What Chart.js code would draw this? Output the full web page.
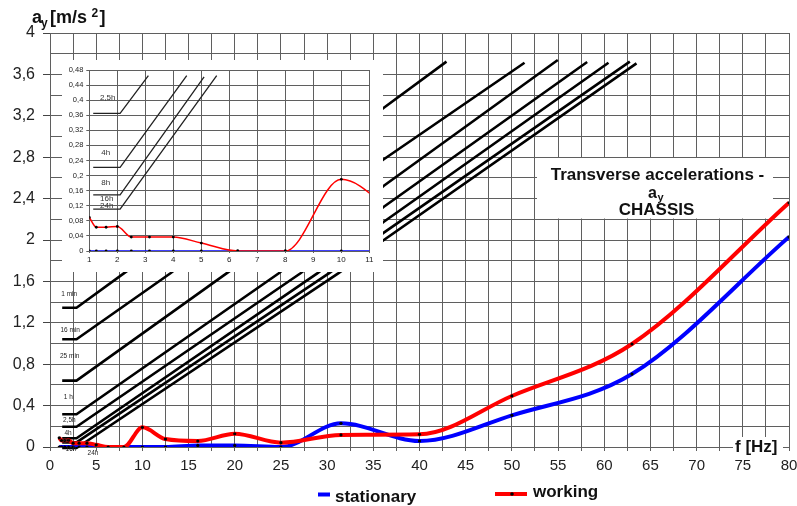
<!DOCTYPE html>
<html>
<head>
<meta charset="utf-8">
<script src="https://cdn.jsdelivr.net/npm/chart.js@4/dist/chart.umd.min.js"></script>
<style>
  html, body { margin: 0; padding: 0; background: #fff; }
  #wrap { position: relative; width: 797px; height: 506px; overflow: hidden; }
  #main { position: absolute; left: 0; top: 0; }
  #inset { position: absolute; left: 62px; top: 60px; }
</style>
</head>
<body>
<div id="wrap">
  <canvas id="main" width="797" height="506"></canvas>
  <canvas id="inset" width="321" height="212"></canvas>
</div>
<script>
// Third-octave band centre frequencies [Hz]
const freqs = [1, 1.25, 1.6, 2, 2.5, 3.15, 4, 5, 6.3, 8, 10, 12.5, 16, 20, 25, 31.5, 40, 50, 63, 80];
// Transverse acceleration a_y [m/s2] on the chassis
const stationary = [0, 0, 0, 0, 0, 0, 0, 0, 0, 0, 0, 0, 0.015, 0.015, 0, 0.229, 0.058, 0.306, 0.705, 2.03];
const working    = [0.089, 0.063, 0.063, 0.065, 0.037, 0.037, 0.037, 0.021, 0, 0, 0.19, 0.077, 0.058, 0.128, 0.042, 0.117, 0.122, 0.493, 0.995, 2.36];

// Exposure-time comfort boundaries, main diagram: [f, a] vertices
const limit1min  = [[1.32, 1.346], [2.87, 1.346], [7.99, 1.678], [11, 1.873]];
const limit16min = [[1.32, 1.041], [2.87, 1.041], [13.04, 1.678], [36.14, 3.278], [42.92, 3.723]];
const limit25min = [[1.32, 0.641], [2.87, 0.641], [19.11, 1.678], [36.14, 2.78], [51.37, 3.713]];
const limit1h    = [[1.32, 0.316], [2.87, 0.316], [24.77, 1.678], [36.14, 2.525], [54.97, 3.739]];
const limit2h5   = [[1.32, 0.196], [2.87, 0.196], [27.12, 1.678], [36.14, 2.322], [58.15, 3.72]];
const limit4h    = [[1.32, 0.084], [2.87, 0.084], [28.93, 1.678], [36.14, 2.177], [60.46, 3.713]];
const limit8h    = [[1.32, 0.045], [2.87, 0.045], [30.18, 1.678], [36.14, 2.071], [62.77, 3.723]];
const limit16h   = [[1.32, -0.01], [2.87, -0.01], [31.2, 1.678], [36.14, 2.0], [63.49, 3.707]];
const mainLimits = [limit1min, limit16min, limit25min, limit1h, limit2h5, limit4h, limit8h, limit16h];

// Boundaries in the low-frequency detail
const detail2h5 = [[1.14, 0.365], [2.1, 0.365], [3.11, 0.465]];
const detail4h  = [[1.14, 0.222], [2.1, 0.222], [4.48, 0.465]];
const detail8h  = [[1.14, 0.149], [2.1, 0.149], [5.1, 0.462]];
const detail16h = [[1.14, 0.111], [2.1, 0.111], [5.55, 0.465]];
const detailLimits = [detail2h5, detail4h, detail8h, detail16h];

// Tick settings
const xTickStep = 2.5, xLabelStep = 5;
const yTickStep = 0.2, yLabelStep = 0.4;
const detailXStep = 1, detailYStep = 0.04;

const FONT = "'Liberation Sans', Arial, sans-serif";
const GRID = '#5f5f5f';
const RED = '#ff0000', BLUE = '#0000ff';

const pts = arr => freqs.map((f, i) => ({ x: f, y: arr[i] }));
const pairs = arr => arr.map(p => ({ x: p[0], y: p[1] }));
const comma = (v, d) => String(Number(v.toFixed(d))).replace('.', ',');

function curveSet(label, arr, color, width, r, order) {
  return {
    label, data: pts(arr), borderColor: color, backgroundColor: color,
    borderWidth: width, cubicInterpolationMode: 'monotone',
    pointRadius: r, pointBackgroundColor: '#000', pointBorderWidth: 0,
    pointHoverRadius: r, order
  };
}
function limitSet(arr, width, color) {
  return {
    data: pairs(arr), borderColor: color, borderWidth: width, tension: 0,
    pointRadius: 0, pointHoverRadius: 0, order: 5, clip: false,
    borderCapStyle: 'butt', borderJoinStyle: 'miter'
  };
}

function drawText(ctx, txt, x, y, font, align, color) {
  ctx.font = font; ctx.textAlign = align || 'left';
  ctx.textBaseline = 'alphabetic'; ctx.fillStyle = color || '#111';
  ctx.fillText(txt, x, y);
}

// Annotations of the main diagram
const mainDecor = {
  id: 'mainDecor',
  beforeDatasetsDraw(chart) {
    const c = chart.ctx;
    c.save();
    c.fillStyle = '#fff';
    c.fillRect(537, 158, 236, 60.5);   // caption panel
    c.restore();
  },
  afterDatasetsDraw(chart) {
    const c = chart.ctx;
    c.save();
    c.font = '6.5px ' + FONT; c.textAlign = 'center'; c.textBaseline = 'middle'; c.fillStyle = '#222';
    [['1 min', 69.2, 294.3], ['16 min', 70.2, 330], ['25 min', 69.7, 356], ['1 h', 68.3, 397.7],
     ['2,5h', 69.3, 420.3], ['4h', 68, 433.5], ['8h', 66, 441.5], ['16h', 71, 449.5], ['24h', 93, 453]]
      .forEach(([t, x, y]) => c.fillText(t, x, y));
    c.restore();
  },
  afterDraw(chart) {
    const c = chart.ctx;
    c.save();
    // axis title a_y [m/s 2]
    drawText(c, 'a', 32, 23, 'bold 18px ' + FONT);
    drawText(c, 'y', 41, 27, 'bold 12px ' + FONT);
    drawText(c, '[m/s', 50, 23, 'bold 18px ' + FONT);
    drawText(c, '2', 91.5, 17, 'bold 12px ' + FONT);
    drawText(c, ']', 99.5, 23, 'bold 18px ' + FONT);

    // frequency axis title
    c.fillStyle = '#fff';
    c.fillRect(733, 437, 50, 22);
    drawText(c, 'f [Hz]', 735, 452, 'bold 17px ' + FONT);

    // caption
    drawText(c, 'Transverse accelerations -', 657.5, 180, 'bold 17px ' + FONT, 'center');
    drawText(c, 'a', 652.5, 198, 'bold 16px ' + FONT, 'center');
    drawText(c, 'y', 660.5, 200.5, 'bold 11px ' + FONT, 'center');
    drawText(c, 'CHASSIS', 656.5, 215, 'bold 17px ' + FONT, 'center');

    // legend
    c.fillStyle = BLUE;
    c.fillRect(318, 492.5, 12, 4);
    drawText(c, 'stationary', 335, 501.5, 'bold 17px ' + FONT);
    c.strokeStyle = RED; c.lineWidth = 4;
    c.beginPath(); c.moveTo(495, 494); c.lineTo(527, 494); c.stroke();
    c.fillStyle = '#000';
    c.beginPath(); c.arc(512, 494, 1.8, 0, Math.PI * 2); c.fill();
    drawText(c, 'working', 533, 497, 'bold 17px ' + FONT);
    c.restore();
  }
};

new Chart(document.getElementById('main'), {
  type: 'line',
  data: {
    datasets: [
      curveSet('working', working, RED, 4, 1.6, 0),
      curveSet('stationary', stationary, BLUE, 4, 1.6, 1),
      ...mainLimits.map(l => limitSet(l, 2.6, '#000'))
    ]
  },
  options: {
    responsive: false, animation: false, events: [],
    layout: { padding: { top: 33, right: 8, left: 0, bottom: 0 } },
    plugins: { legend: { display: false }, tooltip: { enabled: false } },
    scales: {
      x: {
        type: 'linear', min: 0, max: 80,
        afterFit: s => { s.height = 59; s.paddingLeft = 0; s.paddingRight = 0; },
        ticks: {
          stepSize: xTickStep, autoSkip: false, maxRotation: 0, padding: 6,
          color: '#222', font: { family: FONT, size: 15 },
          callback: v => (Math.abs(v / xLabelStep - Math.round(v / xLabelStep)) < 1e-6 ? String(v) : '')
        },
        grid: { color: GRID, lineWidth: 1, tickLength: 4, tickColor: GRID },
        border: { color: GRID }
      },
      y: {
        min: 0, max: 4,
        afterFit: s => { s.width = 50; },
        ticks: {
          stepSize: yTickStep, autoSkip: false, padding: 8,
          color: '#222', font: { family: FONT, size: 16 },
          callback: v => (Math.abs(v / yLabelStep - Math.round(v / yLabelStep)) < 1e-6 ? comma(v, 1) : '')
        },
        grid: {
          color: GRID, lineWidth: 1, tickLength: 7,
          tickColor: ctx => {
            const v = ctx.tick ? ctx.tick.value : 0;
            return Math.abs(v / yLabelStep - Math.round(v / yLabelStep)) < 1e-6 ? '#444' : 'rgba(0,0,0,0)';
          }
        },
        border: { color: GRID }
      }
    }
  },
  plugins: [mainDecor]
});

// Low-frequency detail, drawn on a white panel over the main diagram
const detailDecor = {
  id: 'detailDecor',
  beforeDraw(chart) {
    const c = chart.ctx;
    c.save(); c.fillStyle = '#fff'; c.fillRect(0, 0, chart.width, chart.height); c.restore();
  },
  afterDatasetsDraw(chart) {
    const c = chart.ctx;
    c.save();
    c.font = '8px ' + FONT; c.textAlign = 'center'; c.textBaseline = 'middle'; c.fillStyle = '#333';
    [['2,5h', 45.7, 37.3], ['4h', 43.7, 92.3], ['8h', 43.7, 122.7], ['16h', 44.7, 139], ['24h', 44.7, 145.3]]
      .forEach(([t, x, y]) => c.fillText(t, x, y));
    c.restore();
  }
};

new Chart(document.getElementById('inset'), {
  type: 'line',
  data: {
    datasets: [
      curveSet('working', working, RED, 1.5, 1.4, 0),
      curveSet('stationary', stationary, BLUE, 1.5, 1.4, 1),
      ...detailLimits.map(l => limitSet(l, 1.3, '#222'))
    ]
  },
  options: {
    responsive: false, animation: false, events: [],
    layout: { padding: { top: 10, right: 13.7, left: 0, bottom: 0 } },
    plugins: { legend: { display: false }, tooltip: { enabled: false } },
    scales: {
      x: {
        type: 'linear', min: 1, max: 11,
        afterFit: s => { s.height = 21; s.paddingLeft = 0; s.paddingRight = 0; },
        ticks: { stepSize: detailXStep, autoSkip: false, maxRotation: 0, padding: 2,
                 color: '#222', font: { family: FONT, size: 8 } },
        grid: { color: GRID, lineWidth: 1, tickLength: 2, tickColor: GRID },
        border: { color: GRID }
      },
      y: {
        min: 0, max: 0.48,
        afterFit: s => { s.width = 27.3; },
        ticks: { stepSize: detailYStep, autoSkip: false, padding: 3,
                 color: '#222', font: { family: FONT, size: 7.5 },
                 callback: v => comma(v, 2) },
        grid: { color: GRID, lineWidth: 1, tickLength: 3, tickColor: GRID },
        border: { color: GRID }
      }
    }
  },
  plugins: [detailDecor]
});
</script>
</body>
</html>
